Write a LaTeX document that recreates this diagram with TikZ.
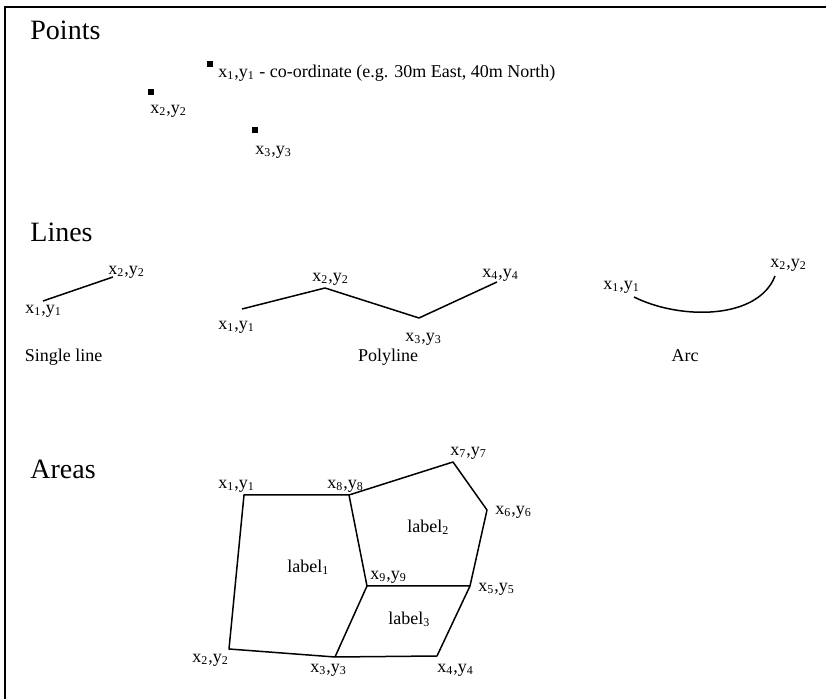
\documentclass[tikz,border=0pt]{standalone}
\usepackage{fontspec}
\setmainfont{Liberation Serif}
\usetikzlibrary{positioning}

\begin{document}
\begin{tikzpicture}[
        x=0.5pt, y=-0.5pt,
        heading/.style = {anchor=base west, inner sep=0pt, font=\fontsize{14}{16}\selectfont},
        coordlbl/.style = {anchor=base west, inner sep=0pt, font=\fontsize{9}{11}\selectfont},
        caption/.style = {anchor=base, inner sep=0pt, font=\fontsize{9}{11}\selectfont},
        pointmark/.style = {fill=black, minimum size=3pt, inner sep=0pt},
        frame/.style = {draw=black, line width=1pt},
        edge/.style = {draw=black, line width=0.75pt, line join=round}
    ]
        \useasboundingbox (0,0) rectangle (826,699);

        % Frame
        \coordinate (fr) at (826,7);
        \coordinate (ftl) at (5,7);
        \coordinate (fbl) at (5,699);
        \draw [frame] (fr) -- (ftl) -- (fbl);

        % Points
        \node (hpoints) [heading] at (30,40) {Points};
        \node (p1) [pointmark] at (209.5,64) {};
        \node (p2) [pointmark] at (151,92.5) {};
        \node (p3) [pointmark] at (254.5,130.5) {};
        \node (p1lbl) [coordlbl] at (218,78) {x\textsubscript{1},y\textsubscript{1} - co-ordinate (e.g. 30m East, 40m North)};
        \node (p2lbl) [coordlbl] at (150,114) {x\textsubscript{2},y\textsubscript{2}};
        \node (p3lbl) [coordlbl] at (255,155) {x\textsubscript{3},y\textsubscript{3}};

        % Lines
        \node (hlines) [heading] at (30,242) {Lines};

        % single line
        \coordinate (s1) at (43,301);
        \coordinate (s2) at (113,277);
        \draw [edge] (s1) -- (s2);
        \node (s1lbl) [coordlbl] at (25,314) {x\textsubscript{1},y\textsubscript{1}};
        \node (s2lbl) [coordlbl] at (108,275) {x\textsubscript{2},y\textsubscript{2}};
        \node (single) [caption] at (63.5,362) {Single line};

        % polyline
        \coordinate (q1) at (242,309);
        \coordinate (q2) at (325,288);
        \coordinate (q3) at (419,318);
        \coordinate (q4) at (497,282);
        \draw [edge] (q1) -- (q2) -- (q3) -- (q4);
        \node (q1lbl) [coordlbl] at (218,330) {x\textsubscript{1},y\textsubscript{1}};
        \node (q2lbl) [coordlbl] at (312,282) {x\textsubscript{2},y\textsubscript{2}};
        \node (q3lbl) [coordlbl] at (405,342) {x\textsubscript{3},y\textsubscript{3}};
        \node (q4lbl) [coordlbl] at (482,278) {x\textsubscript{4},y\textsubscript{4}};
        \node (poly) [caption] at (388,362) {Polyline};

        % arc
        \coordinate (a1) at (634,297);
        \coordinate (a2) at (775,276);
        \draw [edge] (a1) .. controls (680,320) and (758,320) .. (a2);
        \node (a1lbl) [coordlbl] at (603,290) {x\textsubscript{1},y\textsubscript{1}};
        \node (a2lbl) [coordlbl] at (770,268) {x\textsubscript{2},y\textsubscript{2}};
        \node (arc) [caption] at (685,362) {Arc};

        % Areas
        \node (hareas) [heading] at (30,479) {Areas};
        \coordinate (v1) at (244,495);
        \coordinate (v2) at (229,649);
        \coordinate (v3) at (335,657);
        \coordinate (v4) at (437,656);
        \coordinate (v5) at (470,586);
        \coordinate (v6) at (487,510);
        \coordinate (v7) at (453,462);
        \coordinate (v8) at (349,495);
        \coordinate (v9) at (367,586);
        \draw [edge] (v8) -- (v1) -- (v2) -- (v3) -- (v4) -- (v5) -- (v6) -- (v7) -- cycle;
        \draw [edge] (v8) -- (v9) -- (v5);
        \draw [edge] (v9) -- (v3);

        \node (v1lbl) [coordlbl] at (218,489) {x\textsubscript{1},y\textsubscript{1}};
        \node (v2lbl) [coordlbl] at (192,663) {x\textsubscript{2},y\textsubscript{2}};
        \node (v3lbl) [coordlbl] at (310,673) {x\textsubscript{3},y\textsubscript{3}};
        \node (v4lbl) [coordlbl] at (437,673) {x\textsubscript{4},y\textsubscript{4}};
        \node (v5lbl) [coordlbl] at (478,592) {x\textsubscript{5},y\textsubscript{5}};
        \node (v6lbl) [coordlbl] at (495,515) {x\textsubscript{6},y\textsubscript{6}};
        \node (v7lbl) [coordlbl] at (450,456) {x\textsubscript{7},y\textsubscript{7}};
        \node (v8lbl) [coordlbl] at (327,489) {x\textsubscript{8},y\textsubscript{8}};
        \node (v9lbl) [coordlbl] at (370,580) {x\textsubscript{9},y\textsubscript{9}};

        \node (lab1) [coordlbl] at (287,573) {label\textsubscript{1}};
        \node (lab2) [coordlbl] at (407,533) {label\textsubscript{2}};
        \node (lab3) [coordlbl] at (388,625) {label\textsubscript{3}};

    \end{tikzpicture}
\end{document}
